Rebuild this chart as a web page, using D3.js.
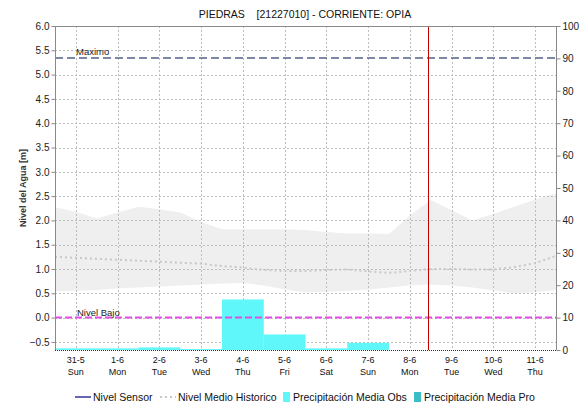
<!DOCTYPE html>
<html>
<head>
<meta charset="utf-8">
<script src="https://cdn.jsdelivr.net/npm/d3@7"></script>
<style>
  html, body { margin: 0; padding: 0; background: #fff; }
  svg { display: block; font-family: "Liberation Sans", Arial, sans-serif; }
</style>
</head>
<body>
<svg id="chart" width="580" height="404"></svg>
<script>
// Station / chart labels
const title = "PIEDRAS    [21227010] - CORRIENTE: OPIA";
const yTitle = "Nivel del Agua [m]";

// Period shown (12 days)
const startDate = new Date(2020, 4, 31);
const endDate = new Date(2020, 5, 12);

// Level axis ticks (m) and precipitation axis ticks (mm)
const levelTicks = [-0.5, 0.0, 0.5, 1.0, 1.5, 2.0, 2.5, 3.0, 3.5, 4.0, 4.5, 5.0, 5.5, 6.0];
const rainTicks = [0, 10, 20, 30, 40, 50, 60, 70, 80, 90, 100];

// Reference levels (m)
const nivelMaximo = 5.34;
const nivelBajo = 0.0;

// Current time marker
const now = new Date(2020, 5, 8, 22, 30);

// Historical level envelope, sampled every 12 hours from the start date (m)
const histMax = [2.27, 2.18, 2.04, 2.16, 2.28, 2.23, 2.16, 1.97, 1.82, 1.82, 1.82, 1.82, 1.80,
                 1.76, 1.73, 1.73, 1.72, 2.10, 2.42, 2.21, 2.00, 2.13, 2.28, 2.43, 2.56];
const histMin = [0.54, 0.55, 0.57, 0.60, 0.62, 0.64, 0.66, 0.68, 0.70, 0.71, 0.66, 0.58, 0.52,
                 0.53, 0.55, 0.58, 0.62, 0.66, 0.68, 0.66, 0.62, 0.56, 0.50, 0.52, 0.57];
const histMean = [1.25, 1.23, 1.21, 1.19, 1.17, 1.15, 1.13, 1.11, 1.06, 1.03, 0.98, 0.96, 0.96,
                  0.98, 0.99, 0.95, 0.92, 0.96, 1.00, 1.00, 0.99, 0.99, 1.04, 1.12, 1.27];

// Observed daily mean precipitation (mm), one value per day from the start date
const rainObs = [0.5, 0.5, 0.8, 0.3, 15.6, 4.8, 0.5, 2.2];

const colors = {
  sensor: "#00008b",
  mean: "#c8c8c8",
  band: "#efefef",
  obs: "#5ff7f9",
  pro: "#3cbcc4",
  maximo: "#7c88a4",
  bajo: "#e64ce6",
  now: "#c00000",
  grid: "#bdbdbd",
  axis: "#8a8a8a"
};

const plot = { left: 55, right: 556, top: 26, bottom: 350 };

const svg = d3.select("#chart");

const x = d3.scaleTime().domain([startDate, endDate]).range([plot.left, plot.right]);
const yL = d3.scaleLinear().domain([-2 / 3, 6]).range([plot.bottom, plot.top]);
const yR = d3.scaleLinear().domain([0, 100]).range([plot.bottom, plot.top]);

const halfDay = i => d3.timeHour.offset(startDate, i * 12);
const dayTicks = d3.timeDay.range(startDate, endDate).map(d => d3.timeHour.offset(d, 12));

// Historical envelope band
const band = histMax.map((v, i) => ({ t: halfDay(i), hi: v, lo: histMin[i] }));
svg.append("path")
  .datum(band)
  .attr("fill", colors.band)
  .attr("d", d3.area().x(d => x(d.t)).y0(d => yL(d.lo)).y1(d => yL(d.hi)));

// Grid
const grid = svg.append("g").attr("stroke", colors.grid).attr("stroke-dasharray", "2,2").attr("shape-rendering", "crispEdges");
grid.selectAll("line.h").data(levelTicks).join("line")
  .attr("x1", plot.left).attr("x2", plot.right)
  .attr("y1", d => Math.round(yL(d)) + 0.5).attr("y2", d => Math.round(yL(d)) + 0.5);
grid.selectAll("line.v").data(dayTicks).join("line")
  .attr("x1", d => Math.round(x(d)) + 0.5).attr("x2", d => Math.round(x(d)) + 0.5)
  .attr("y1", plot.top).attr("y2", plot.bottom);

// Historical mean level
svg.append("path")
  .datum(histMean.map((v, i) => ({ t: halfDay(i), v })))
  .attr("fill", "none")
  .attr("stroke", colors.mean)
  .attr("stroke-width", 2)
  .attr("stroke-dasharray", "2,3")
  .attr("d", d3.line().x(d => x(d.t)).y(d => yL(d.v)));

// Observed precipitation bars
svg.append("g").selectAll("rect").data(rainObs).join("rect")
  .attr("x", (d, i) => x(d3.timeDay.offset(startDate, i)))
  .attr("width", (d, i) => x(d3.timeDay.offset(startDate, i + 1)) - x(d3.timeDay.offset(startDate, i)))
  .attr("y", d => yR(d))
  .attr("height", d => yR(0) - yR(d))
  .attr("fill", colors.obs);

// Reference levels
svg.append("line")
  .attr("x1", plot.left).attr("x2", plot.right)
  .attr("y1", yL(nivelMaximo)).attr("y2", yL(nivelMaximo))
  .attr("stroke", colors.maximo).attr("stroke-width", 2).attr("stroke-dasharray", "8,4");
svg.append("text").attr("x", 76).attr("y", yL(nivelMaximo) - 3)
  .attr("font-size", 9.5).attr("fill", "#222").text("Maximo");

svg.append("line")
  .attr("x1", plot.left).attr("x2", plot.right)
  .attr("y1", yL(nivelBajo)).attr("y2", yL(nivelBajo))
  .attr("stroke", colors.bajo).attr("stroke-width", 2).attr("stroke-dasharray", "7,3");
svg.append("text").attr("x", 77).attr("y", yL(nivelBajo) - 2)
  .attr("font-size", 9.5).attr("fill", "#222").text("Nivel Bajo");

// Current time marker
svg.append("line")
  .attr("x1", Math.round(x(now)) + 0.5).attr("x2", Math.round(x(now)) + 0.5)
  .attr("y1", plot.top).attr("y2", plot.bottom)
  .attr("stroke", colors.now).attr("stroke-width", 1);

// Frame
svg.append("line").attr("x1", plot.left).attr("x2", plot.right).attr("y1", plot.top + 0.5).attr("y2", plot.top + 0.5)
  .attr("stroke", colors.axis);
svg.append("line").attr("x1", plot.left).attr("x2", plot.right).attr("y1", plot.bottom + 0.5).attr("y2", plot.bottom + 0.5)
  .attr("stroke", "#333").attr("stroke-dasharray", "1,1");

// Left axis
const leftAxis = svg.append("g").attr("transform", `translate(${plot.left + 0.5},0)`)
  .call(d3.axisLeft(yL).tickValues(levelTicks).tickFormat(d3.format(".1f")).tickSize(4).tickPadding(2));
// Right axis
const rightAxis = svg.append("g").attr("transform", `translate(${plot.right + 0.5},0)`)
  .call(d3.axisRight(yR).tickValues(rainTicks).tickSize(4).tickPadding(2));
[leftAxis, rightAxis].forEach(g => {
  g.select(".domain").attr("stroke", colors.axis).attr("d", `M0,${plot.top}V${plot.bottom}`);
  g.selectAll(".tick line").attr("stroke", colors.axis);
  g.selectAll(".tick text").attr("font-size", 10).attr("fill", "#222")
    .attr("font-family", "Liberation Sans, Arial, sans-serif");
});

// Bottom axis labels: date and weekday
const fmtDate = d3.timeFormat("%-d-%-m");
const fmtDay = d3.timeFormat("%a");
const xl = svg.append("g").attr("font-size", 9).attr("fill", "#111").attr("text-anchor", "middle");
xl.selectAll("text.d").data(dayTicks).join("text")
  .attr("x", d => x(d)).attr("y", 363).text(d => fmtDate(d));
xl.selectAll("text.w").data(dayTicks).join("text")
  .attr("x", d => x(d)).attr("y", 375).text(d => fmtDay(d));

// Titles
svg.append("text").attr("x", 305).attr("y", 18).attr("text-anchor", "middle")
  .attr("font-size", 10.5).attr("fill", "#111").style("white-space", "pre").text(title);
svg.append("text").attr("transform", `translate(26,${(plot.top + plot.bottom) / 2}) rotate(-90)`)
  .attr("text-anchor", "middle").attr("font-size", 9).attr("font-weight", "bold").attr("fill", "#333")
  .text(yTitle);

// Legend
const legend = svg.append("g").attr("font-size", 10.5).attr("fill", "#111");
const ly = 397;
legend.append("line").attr("x1", 75).attr("x2", 91).attr("y1", ly).attr("y2", ly)
  .attr("stroke", colors.sensor).attr("stroke-width", 1.2);
legend.append("text").attr("x", 93).attr("y", ly + 4).text("Nivel Sensor");
legend.append("line").attr("x1", 160).attr("x2", 176).attr("y1", ly).attr("y2", ly)
  .attr("stroke", colors.mean).attr("stroke-width", 2).attr("stroke-dasharray", "2,3");
legend.append("text").attr("x", 178).attr("y", ly + 4).text("Nivel Medio Historico");
legend.append("rect").attr("x", 283).attr("y", ly - 5).attr("width", 7).attr("height", 10).attr("fill", colors.obs);
legend.append("text").attr("x", 293).attr("y", ly + 4).text("Precipitación Media Obs");
legend.append("rect").attr("x", 414).attr("y", ly - 5).attr("width", 7).attr("height", 10).attr("fill", colors.pro);
legend.append("text").attr("x", 424).attr("y", ly + 4).text("Precipitación Media Pro");
</script>
</body>
</html>
